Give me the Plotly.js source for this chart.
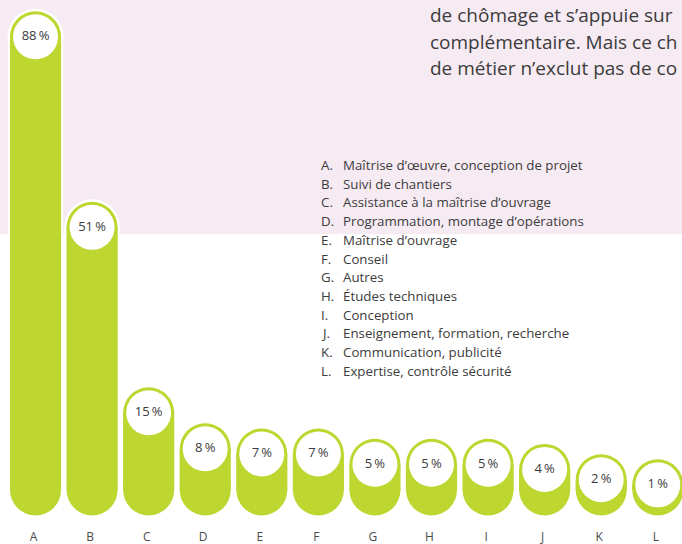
<!DOCTYPE html>
<html>
<head>
<meta charset="utf-8">
<script src="https://cdn.plot.ly/plotly-3.0.1.min.js"></script>
<style>html,body{margin:0;padding:0;background:#fff;}#chart{width:682px;height:544px;}</style>
</head>
<body>
<div id="chart"></div>
<script>
// ---- data ----
const categories = ["A","B","C","D","E","F","G","H","I","J","K","L"];
const values = [88, 51, 15, 8, 7, 7, 5, 5, 5, 4, 2, 1];
const labels = [
  "Maîtrise d’œuvre, conception de projet",
  "Suivi de chantiers",
  "Assistance à la maîtrise d’ouvrage",
  "Programmation, montage d’opérations",
  "Maîtrise d’ouvrage",
  "Conseil",
  "Autres",
  "Études techniques",
  "Conception",
  "Enseignement, formation, recherche",
  "Communication, publicité",
  "Expertise, contrôle sécurité"
];
const introLines = [
  "de chômage et s’appuie sur",
  "complémentaire. Mais ce ch",
  "de métier n’exclut pas de co"
];

// ---- styling ----
const GREEN = "#bed630";
const PINK = "#f6eaf3";
const TXT = "#3c3c3c";
const FONT = "Open Sans, Lato, sans-serif";
const W = 682, H = 544, MB = 22, PH = H - MB;
const pct = values.map(v => v + "\u2009%");
const zeros = values.map(() => 0);

const traces = [
  // white outline layer (subplot x/y)
  {type:"bar", x:categories, y:values, base:0, width:0.975, marker:{color:"#ffffff"}, xaxis:"x", yaxis:"y", hoverinfo:"skip"},
  {type:"scatter", mode:"markers", x:categories, y:values, marker:{size:56, color:"#ffffff"}, xaxis:"x", yaxis:"y", hoverinfo:"skip"},
  {type:"scatter", mode:"markers", x:categories, y:zeros, marker:{size:56, color:"#ffffff"}, xaxis:"x", yaxis:"y", hoverinfo:"skip"},
  // green pills (subplot x/y2)
  {type:"bar", x:categories, y:values, base:0, width:0.905, marker:{color:GREEN}, xaxis:"x", yaxis:"y2", hoverinfo:"skip"},
  {type:"scatter", mode:"markers", x:categories, y:values, marker:{size:51, color:GREEN}, xaxis:"x", yaxis:"y2", hoverinfo:"skip"},
  {type:"scatter", mode:"markers", x:categories, y:zeros, marker:{size:51, color:GREEN}, xaxis:"x", yaxis:"y2", hoverinfo:"skip"},
  {type:"scatter", mode:"markers+text", x:categories, y:values, text:pct, textposition:"middle center",
   textfont:{family:FONT, size:13, color:TXT},
   marker:{size:45, color:"#ffffff"}, xaxis:"x", yaxis:"y2", hoverinfo:"skip"}
];

const annotations = [];
const px2x = p => p / W;
const py2y = p => (PH - p) / PH;
categories.forEach((c, i) => {
  const yc = 165 + i * 18.7;
  annotations.push({xref:"paper", yref:"paper", x:px2x(319), y:py2y(yc), xanchor:"left", yanchor:"middle",
    text:c + ".", showarrow:false, font:{family:FONT, size:13.3, color:TXT}});
  annotations.push({xref:"paper", yref:"paper", x:px2x(341), y:py2y(yc), xanchor:"left", yanchor:"middle",
    text:labels[i], showarrow:false, font:{family:FONT, size:13.3, color:TXT}});
});
introLines.forEach((t, i) => {
  annotations.push({xref:"paper", yref:"paper", x:px2x(428), y:py2y(15 + i * 26.5), xanchor:"left", yanchor:"middle",
    text:t, showarrow:false, font:{family:FONT, size:19, color:TXT}});
});

const yr = [(490 - PH) / 5.15, 490 / 5.15];
const layout = {
  width: W, height: H,
  margin: {l:0, r:0, t:0, b:MB, pad:0},
  paper_bgcolor: "#ffffff",
  plot_bgcolor: "rgba(0,0,0,0)",
  showlegend: false,
  barmode: "overlay",
  xaxis: {type:"category", range:[-0.628, 11.428], showgrid:false, zeroline:false, showline:false,
    ticks:"outside", ticklen:4, tickcolor:"rgba(0,0,0,0)", ticklabelshift:-2,
    tickfont:{family:FONT, size:12, color:"#4a4a4a"}, fixedrange:true},
  yaxis: {range:yr, visible:false, fixedrange:true},
  yaxis2: {range:yr, visible:false, overlaying:"y", fixedrange:true},
  shapes: [{type:"rect", xref:"paper", yref:"paper", x0:0, x1:1, y0:py2y(234), y1:1,
    fillcolor:PINK, line:{width:0}, layer:"below"}],
  annotations: annotations
};

Plotly.newPlot("chart", traces, layout, {displayModeBar:false, staticPlot:true});
</script>
</body>
</html>
